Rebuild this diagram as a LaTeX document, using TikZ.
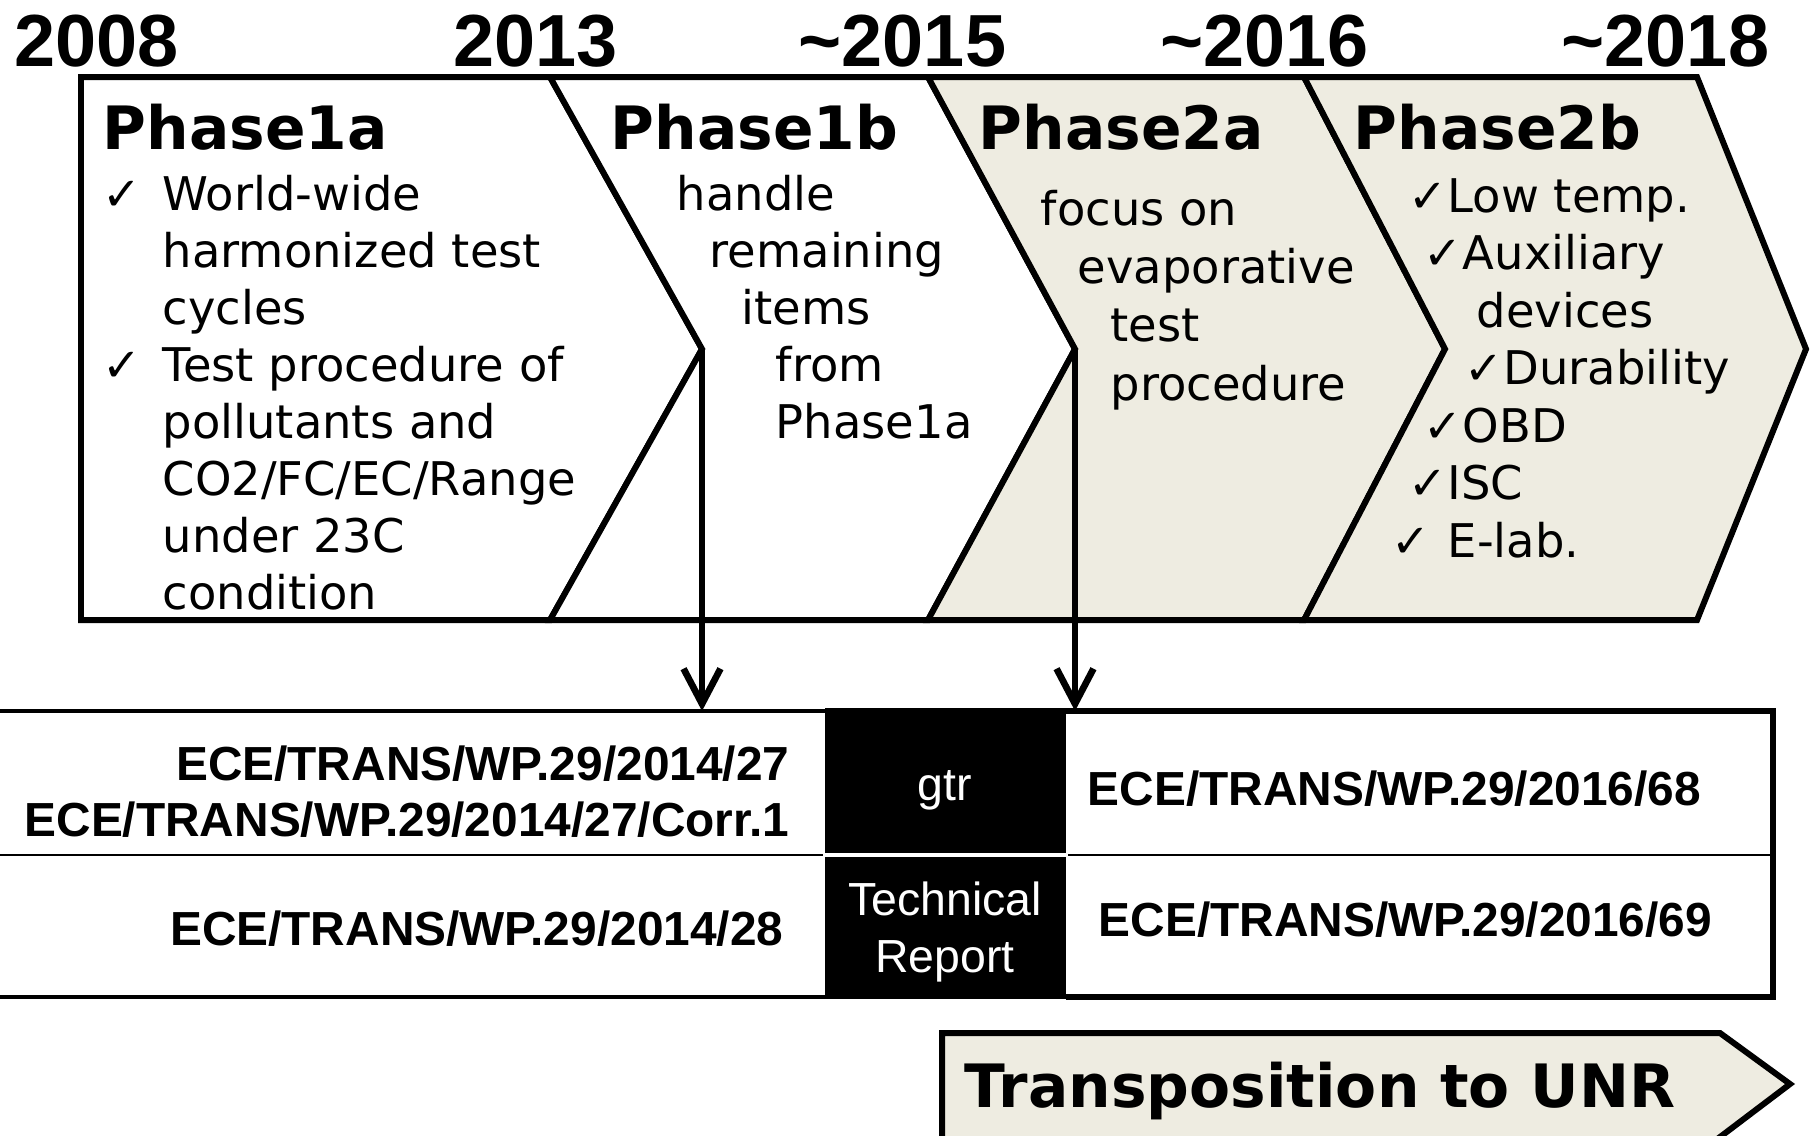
\documentclass[tikz,border=0pt]{standalone}
\usepackage{fontspec}
\setmainfont{DejaVu Sans}
\newfontfamily\arialfont{Liberation Sans}
\usetikzlibrary{arrows.meta}
\definecolor{phasebeige}{HTML}{EEECE1}
\newcommand{\chk}{✓}

\begin{document}
\begin{tikzpicture}[x=0.01cm, y=-0.01cm]
    \tikzstyle{phasebox} = [draw, line width=1.7pt]
    \tikzstyle{phasetitle} = [anchor=base west, inner sep=0, font=\bfseries\fontsize{17pt}{20pt}\selectfont]
    \tikzstyle{phasetext} = [anchor=base west, inner sep=0, align=left, font=\fontsize{13.2pt}{16.2pt}\selectfont]
    \tikzstyle{yearlabel} = [anchor=base west, inner sep=0, font=\arialfont\bfseries\fontsize{21pt}{24pt}\selectfont]
    \tikzstyle{docref} = [inner sep=0, font=\arialfont\bfseries\fontsize{13.6pt}{16pt}\selectfont]
    \tikzstyle{kindlabel} = [anchor=base, inner sep=0, align=center, text=white, font=\arialfont\fontsize{13.2pt}{16.2pt}\selectfont]
    \tikzstyle{arrow} = [line width=1.9pt, -{Straight Barb[length=10pt, width=10.5pt]}]

    \useasboundingbox (0,0) rectangle (1813,1135);

    % Years
    \node (y2008) [yearlabel] at (14,66) {2008};
    \node (y2013) [yearlabel] at (453,66) {2013};
    \node (y2015) [yearlabel] at (798,66) {\textasciitilde 2015};
    \node (y2016) [yearlabel] at (1160,66) {\textasciitilde 2016};
    \node (y2018) [yearlabel] at (1561,66) {\textasciitilde 2018};

    % Phases
    \coordinate (tip1a) at (702,349);
    \coordinate (tip1b) at (1075,349);
    \coordinate (tip2a) at (1445,349);
    \coordinate (tip2b) at (1806,349);
    \draw [phasebox, fill=white] (81,77) -- (550,77) -- (tip1a) -- (550,620) -- (81,620) -- cycle;
    \draw [phasebox, fill=white] (550,77) -- (928,77) -- (tip1b) -- (928,620) -- (550,620) -- (tip1a) -- cycle;
    \draw [phasebox, fill=phasebeige] (928,77) -- (1304,77) -- (tip2a) -- (1304,620) -- (928,620) -- (tip1b) -- cycle;
    \draw [phasebox, fill=phasebeige] (1304,77) -- (1697,77) -- (tip2b) -- (1697,620) -- (1304,620) -- (tip2a) -- cycle;

    \node (ph1a) [phasetitle] at (102,149) {Phase1a};
    \node (ph1b) [phasetitle] at (610,149) {Phase1b};
    \node (ph2a) [phasetitle] at (978,149) {Phase2a};
    \node (ph2b) [phasetitle] at (1353,149) {Phase2b};

    % base = last line of each text
    \node (txt1a) [phasetext] at (162,609) {\llap{\chk\hspace{6pt}}World-wide\\harmonized test\\cycles\\
        \llap{\chk\hspace{6pt}}Test procedure of\\pollutants and\\CO2/FC/EC/Range\\under 23C\\condition};
    \node (txt1b) [phasetext] at (676,438) {handle\\\hspace*{9.4pt}remaining\\\hspace*{18.5pt}items\\
        \hspace*{28.2pt}from\\\hspace*{28.2pt}Phase1a};
    \node (txt2a) [phasetext, font=\fontsize{13.2pt}{16.5pt}\selectfont] at (1040,400) {focus on\\
        \hspace*{10.5pt}evaporative\\\hspace*{19.9pt}test\\\hspace*{19.9pt}procedure};
    \node (txt2b) [phasetext, font=\fontsize{13.2pt}{16.35pt}\selectfont] at (1447,557) {\llap{\chk}Low temp.\\\hspace*{4.3pt}\llap{\chk}Auxiliary\\
        \hspace*{8.3pt}devices\\\hspace*{15.9pt}\llap{\chk}Durability\\\hspace*{4.3pt}\llap{\chk}OBD\\
        \llap{\chk}ISC\\\llap{\chk\hspace{5pt}}E-lab.};

    % Documents
    \coordinate (tabletop) at (0,711);
    \fill (825,708) rectangle (1066,999);
    \draw [line width=1.4pt] (0,711) -- (825,711);
    \draw [line width=1.6pt] (1066,711) -- (1773,711) -- (1773,997) -- (1066,997);
    \draw [line width=1.4pt] (0,997) -- (825,997);
    \draw [line width=0.8pt] (0,855) -- (823,855);
    \draw [line width=0.8pt] (1068,855) -- (1773,855);
    \draw [white, line width=1.1pt] (825,855) -- (1066,855);

    \node (doc27) [docref, anchor=base east] at (790,780) {ECE/TRANS/WP.29/2014/27};
    \node (doc27c) [docref, anchor=base east] at (790,836) {ECE/TRANS/WP.29/2014/27/Corr.1};
    \node (doc28) [docref, anchor=base east] at (784,945) {ECE/TRANS/WP.29/2014/28};
    \node (gtr) [kindlabel] at (945,800) {gtr};
    \node (techrep) [kindlabel] at (945,972) {Technical\\Report};
    \node (doc68) [docref, anchor=base west] at (1087,805) {ECE/TRANS/WP.29/2016/68};
    \node (doc69) [docref, anchor=base west] at (1098,936) {ECE/TRANS/WP.29/2016/69};

    % Arrows
    \draw [arrow] (tip1a) -- (tip1a |- tabletop);
    \draw [arrow] (tip1b) -- (tip1b |- tabletop);

    % Transposition
    \draw [phasebox, fill=phasebeige] (942,1033) -- (1720,1033) -- (1790,1084) -- (1716,1140) -- (942,1140) -- cycle;
    \node (unr) [phasetitle] at (964,1107) {Transposition to UNR};
\end{tikzpicture}
\end{document}
